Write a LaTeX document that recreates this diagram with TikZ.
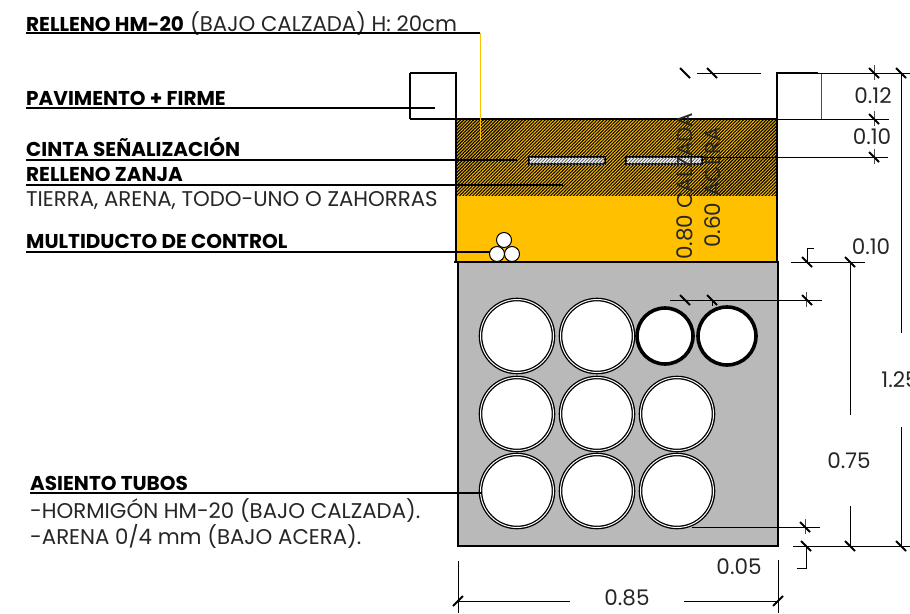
\documentclass[tikz,border=0pt]{standalone}
\usepackage{fontspec}
\setmainfont{Poppins}
\usetikzlibrary{patterns.meta}
\usetikzlibrary{calc}
\definecolor{rellenocolor}{HTML}{FFC000}
\definecolor{asientocolor}{HTML}{B9B9B9}
\definecolor{textocolor}{HTML}{262626}
\tikzset{
  titulo/.style={anchor=base west,inner sep=0pt,font=\fontsize{20}{20}\selectfont\bfseries,text=black},
  nota/.style={anchor=base west,inner sep=0pt,font=\fontsize{21.3}{21.3}\selectfont,text=textocolor},
  cota/.style={inner sep=0pt,font=\fontsize{21.5}{21.5}\selectfont,text=textocolor},
  linea/.style={line width=1.2pt,black},
  fina/.style={line width=1pt,black},
  muro/.style={line width=2.6pt,black},
  tubo/.style={draw=black,double=white,fill=white,line width=1.3pt,double distance=1pt},
  tubochico/.style={draw=black,fill=white,line width=3.6pt},
  marca/.pic={\draw[line width=2pt,line cap=butt] (-5,-5) -- (5,5);}
}
\begin{document}
\begin{tikzpicture}[x=1pt,y=-1pt]
  \useasboundingbox[fill=white] (0,0) rectangle (910,613);
  % rellenos
  \fill[rellenocolor] (456,119) rectangle (777,262);
  \fill[pattern={Lines[angle=45,distance=2.3pt,line width=1.1pt]},pattern color=black] (456,119) rectangle (777,195);
  \fill[asientocolor] (457,262) rectangle (777,546);
  % bordillos y zanja
  \draw[muro] (410,119) -- (456,119) -- (456,262);
  \draw[muro] (458,262) -- (458,546) -- (778,546) -- (778,262);
  \draw[line width=1.5pt] (410,119) -- (410,73);
  \draw[muro] (410,73) -- (456,73) -- (456,119);
  \draw[muro] (456,119) -- (777,119) -- (777,73) -- (818,73);
  \draw[line width=1pt,black!70] (821,73) -- (821,119) -- (777,119);
  \draw[muro] (777,119) -- (777,262);
  \draw[muro] (454,262) -- (779,262);
  % cinta
  \foreach \xa/\xb in {529/605,626/702}
    \draw[line width=1.6pt,fill=white,postaction={pattern={Lines[angle=45,distance=2.3pt,line width=.9pt]},pattern color=black!60}] (\xa,157) rectangle (\xb,164);
  % tubos
  \foreach \px/\py in {517/336,597/336,517/414,597/414,677/414,517/491,597/491,677/491}
    \node[tubo,circle,minimum size=73pt,inner sep=0pt] (tubo\px\py) at (\px,\py) {};
  \foreach \px/\wd in {665/56,727/58}
    \node[tubochico,circle,minimum size=\wd pt,inner sep=0pt] (chico\px) at (\px,336) {};
  \foreach \px/\py in {504/240,497/254,512/254}
    \draw[line width=1pt,fill=white] (\px,\py) circle (7.5);
  % textos
  \node[titulo] (rellenohm) at (26,31) {RELLENO HM-20};
  \node[nota] (bajocalzada) at (190,31) {(BAJO CALZADA) H: 20cm};
  \node[titulo] (pavimento) at (26,105) {PAVIMENTO + FIRME};
  \node[titulo] (cinta) at (26,156) {CINTA SEÑALIZACIÓN};
  \node[titulo] (relleno) at (26,181) {RELLENO ZANJA};
  \node[nota] (tierra) at (26,206) {TIERRA, ARENA, TODO-UNO O ZAHORRAS};
  \node[titulo] (multiducto) at (26,248) {MULTIDUCTO DE CONTROL};
  \node[titulo] (asiento) at (30,490) {ASIENTO TUBOS};
  \node[nota] (hormigon) at (30,518) {-HORMIGÓN HM-20 (BAJO CALZADA).};
  \node[nota] (arena) at (30,544) {-ARENA 0/4 mm (BAJO ACERA).};
  % referencias
  \draw[linea] (26,33) -- (480,33);
  \draw[rellenocolor,line width=.8pt] (480,33) -- (480,141);
  \draw[linea] (26,108) -- (435,108);
  \draw[linea] (26,160) -- (517,160);
  \draw[linea] (26,185) -- (563,185);
  \draw[linea] (26,252) -- (490,252);
  \draw[linea] (30,493) -- (482,493);
  % cotas
  \node[cota,rotate=90,anchor=base west] (calzada) at (692,260) {0.80 CALZADA};
  \node[cota,rotate=90,anchor=base west] (acera) at (720,248) {0.60 ACERA};
  \node[cota] (c012) at (873,96) {0.12};
  \node[cota] (c010a) at (872,137) {0.10};
  \node[cota] (c010b) at (871,247) {0.10};
  \node[cota] (c125) at (900,380) {1.25};
  \node[cota] (c075) at (849,461) {0.75};
  \node[cota] (c005) at (739,567) {0.05};
  \node[cota] (c085) at (627,598) {0.85};
  \draw[fina] (697,73) -- (761,73);
  \draw[fina] (776,73) -- (910,73);
  \draw[fina] (777,119) -- (889,119);
  \draw[fina] (702,157) -- (888,157);
  \draw[fina] (791,262) -- (865,262);
  \draw[fina] (670,300) -- (822,300);
  \draw[fina] (692,527) -- (820,527);
  \draw[fina] (793,546) -- (910,546);
  \draw[fina] (850,262) -- (850,415);
  \draw[fina] (850,506) -- (850,546);
  \draw[fina] (901,73) -- (901,333);
  \draw[fina] (901,427) -- (901,546);
  \draw[fina] (458,561) -- (458,613);
  \draw[fina] (778,560) -- (778,613);
  \draw[fina] (458,601) -- (570,601);
  \draw[fina] (684,601) -- (778,601);
  \draw[fina] (807,262) -- (807,248) -- (814,248);
  \draw[fina] (806,546) -- (806,568) -- (797,568);
  \draw[fina] (712,300) -- (712,306);
  \foreach \px/\py in {874/65,874/111,874/149,806/292,805/519}
    \draw[fina,black!70] (\px,\py) -- (\px,\py+15);
  \foreach \px/\py in {685/73,712/73,874/73,901/73,874/119,874/157,807/262,850/262,685/300,712/300,807/300,805/527,806/546,850/546,901/546}
    \pic at (\px,\py) {marca};
  \foreach \px in {458,778}
    \draw[line width=2pt] (\px-5,606) -- (\px+5,596);
\end{tikzpicture}
\end{document}
